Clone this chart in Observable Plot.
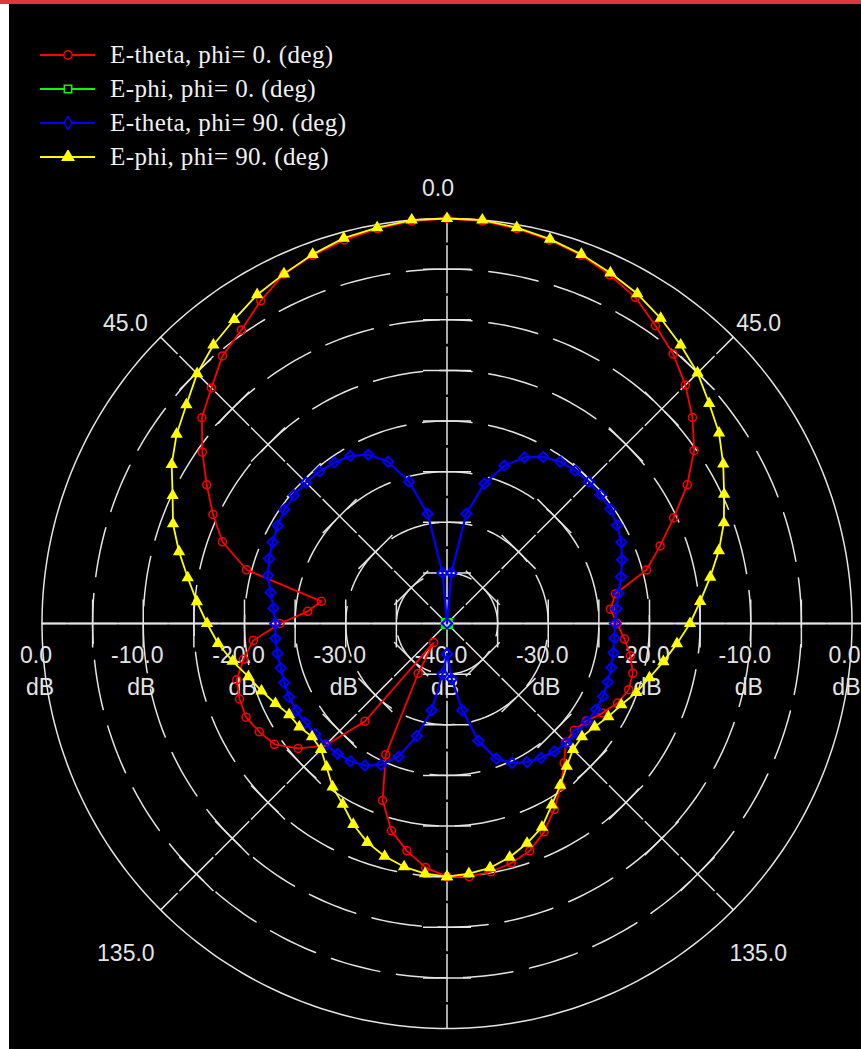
<!DOCTYPE html>
<html><head><meta charset="utf-8">
<script src="https://cdn.jsdelivr.net/npm/d3@7"></script>
<script src="https://cdn.jsdelivr.net/npm/@observablehq/plot@0.6"></script>
<style>
html,body{margin:0;padding:0;background:#fff;width:861px;height:1049px;overflow:hidden}
#bar{position:absolute;left:0;top:0;width:861px;height:4px;background:#d83a3a}
#panel{position:absolute;left:9px;top:4px;width:852px;height:1045px;background:#000;overflow:hidden}
#legend{position:absolute;left:31px;top:34px;font-family:"Liberation Serif","DejaVu Serif",serif;font-size:25px;letter-spacing:0.4px;color:#f0f0f0;line-height:34px}
#legend .row{display:flex;align-items:center;height:34px}
#legend svg{margin-right:15px}
</style></head>
<body>
<div id="bar"></div>
<div id="panel"><div id="legend"></div></div>
<script>
// ---- data (dB versus angle from the top, clockwise positive) ----
const angles = [-180,-175,-170,-165,-160,-155,-150,-145,-140,-135,-130,-125,-120,-115,-110,-105,-100,-95,-90,-85,-80,-75,-70,-65,-60,-55,-50,-45,-40,-35,-30,-25,-20,-15,-10,-5,0,5,10,15,20,25,30,35,40,45,50,55,60,65,70,75,80,85,90,95,100,105,110,115,120,125,130,135,140,145,150,155,160,165,170,175,180];
const redDb = [-15.0,-15.8,-17.2,-18.8,-21.4,-25.7,-34.3,-37.7,-27.4,-22.9,-20.8,-19.2,-18.6,-18.1,-18.2,-18.5,-19.6,-20.8,-23.5,-26.2,-27.4,-19.5,-16.4,-14.5,-12.6,-10.5,-8.4,-7.1,-5.5,-4.6,-3.2,-1.9,-1.3,-0.8,-0.4,-0.1,0,-0.1,-0.4,-0.8,-1.3,-2.0,-2.8,-4.1,-5.25,-6.7,-8.35,-10.2,-12.6,-15.3,-17.6,-19.6,-23.1,-23.8,-23.2,-22.4,-21.6,-21.0,-20.9,-21.4,-22.3,-23.2,-23.6,-23.4,-22.0,-20.4,-18.8,-17.3,-16.1,-15.5,-15.1,-14.9,-15.0];
const greenDb = [-40,-40,-40,-40,-40,-40,-40,-40,-40,-40,-40,-40,-40,-40,-40,-40,-40,-40,-40,-40,-40,-40,-40,-40,-40,-40,-40,-40,-40,-40,-40,-40,-40,-40,-40,-40,-40,-40,-40,-40,-40,-40,-40,-40,-40,-40,-40,-40,-40,-40,-40,-40,-40,-40,-40,-40,-40,-40,-40,-40,-40,-40,-40,-40,-40,-40,-40,-40,-40,-40,-40,-40,-40];
const blueDb = [-37,-35,-31.3,-28.5,-26,-24.6,-23.8,-23.4,-23.2,-23.1,-23.0,-22.9,-22.8,-22.8,-22.9,-23.0,-23.0,-23.0,-23.05,-22.8,-22.3,-21.7,-21.3,-21.0,-20.7,-20.4,-20.3,-20.3,-20.4,-20.6,-20.9,-21.6,-23.0,-25.5,-29,-35,-40,-35,-29,-25.7,-23.4,-21.9,-21.0,-20.5,-20.3,-20.2,-20.2,-20.3,-20.6,-21.0,-21.6,-22.2,-22.8,-23.2,-23.4,-23.4,-23.3,-23.2,-23.1,-23.0,-23.0,-23.1,-23.2,-23.3,-23.5,-23.8,-24.2,-24.8,-25.8,-28,-31.3,-34.5,-37];
const yellowDb = [-15.0,-15.2,-15.6,-16.2,-17.0,-18.1,-19.4,-20.3,-21.5,-22.4,-22.6,-22.2,-22.0,-21.3,-20.5,-19.7,-18.5,-17.3,-16.3,-15.2,-14.0,-12.6,-11.2,-10.1,-8.6,-7.4,-6.4,-5.1,-4.1,-3.35,-2.5,-1.9,-1.2,-0.6,-0.3,0,0,0,-0.3,-0.7,-1.2,-1.8,-2.4,-3.2,-4.1,-5.0,-6.2,-7.2,-8.5,-9.8,-10.9,-12.2,-13.6,-14.9,-16.0,-17.2,-18.3,-19.3,-20.1,-21.0,-21.6,-22.2,-22.6,-22.4,-21.6,-20.5,-19.3,-17.8,-16.9,-16.1,-15.5,-15.2,-15.0];
const seriesNames = ["E-theta, phi= 0. (deg)", "E-phi, phi= 0. (deg)", "E-theta, phi= 90. (deg)", "E-phi, phi= 90. (deg)"];
const seriesColors = ["#ff0000", "#00ff00", "#0000ff", "#ffff00"];
const seriesSymbols = ["circle", "square2", "diamond2", "triangle"];
const ringDb = [-40, -35, -30, -25, -20, -15, -10, -5, 0];
const spokeAngles = [0, 45, 90, 135, 180, 225, 270, 315];
const angleTicks = [0, 45, -45, 135, -135];
const dbTicksLeft = [0, -10, -20, -30, -40];
const dbTicksRight = [-30, -20, -10, 0];

// ---- geometry ----
const W = 852, H = 1045, CX = 437.5, CY = 619, R0 = 405;
const DBMIN = -40, DBMAX = 0;
const k = R0 / (DBMAX - DBMIN);           // px per dB
const rad = d => Math.max(0, d - DBMIN);  // radius in dB units
const toRad = a => a * Math.PI / 180;
const px = (a, r) => r * Math.sin(toRad(a));
const py = (a, r) => r * Math.cos(toRad(a));

const allDb = [redDb, greenDb, blueDb, yellowDb];
const series = allDb.map((dbs, s) => angles.map((a, i) => ({a, db: dbs[i], x: px(a, rad(dbs[i])), y: py(a, rad(dbs[i])), s})));

// rings (dashed inner rings, solid outer ring)
const ringPts = [];
for (const d of ringDb.slice(1, -1)) for (let a = 0; a <= 360; a += 1) ringPts.push({d, x: px(a, rad(d)), y: py(a, rad(d))});
const outerPts = d3.range(0, 361, 1).map(a => ({x: px(a, rad(DBMAX)), y: py(a, rad(DBMAX))}));

// crosses on each ring along the spokes
const arm = 24 / k;
const crosses = [];
for (const d of ringDb) {
  const r = rad(d);
  for (const a of spokeAngles) {
    const r1 = Math.max(0, r - arm), r2 = d === DBMAX ? r : r + arm;
    crosses.push({x1: px(a, r1), y1: py(a, r1), x2: px(a, r2), y2: py(a, r2)});
    if (r > 0 && d !== DBMAX) {
      const tx = Math.cos(toRad(a)), ty = -Math.sin(toRad(a));
      const x0 = px(a, r), y0 = py(a, r);
      crosses.push({x1: x0 - arm * tx, y1: y0 - arm * ty, x2: x0 + arm * tx, y2: y0 + arm * ty});
    }
  }
}

const xDomain = [-CX / k, (W - CX) / k];
const yDomain = [-(H - CY) / k, CY / k];

// label nudges (px, right / down) per angle tick
const angleNudge = {"0": [-9, 2], "45": [3, 9], "-45": [-13, 9], "135": [-11, 8], "-135": [1, 8]};
const angleLabelData = angleTicks.map(a => {
  const r = Math.abs(a) > 90 ? 45 : 43.1;
  const [nx, ny] = angleNudge[a];
  return {a, t: Math.abs(a).toFixed(1), x: px(a, r) + nx / k, y: py(a, r) - ny / k};
});
const dbLabelData = dbTicksLeft.map(d => ({x: -rad(d), d, edge: false})).concat(dbTicksRight.map(d => ({x: rad(d), d, edge: d === DBMAX})));

const gridColor = "#e4e4e4";
const labelFont = "Liberation Sans, Arial, sans-serif";

const marks = [
  Plot.line(ringPts, {x: "x", y: "y", z: "d", stroke: gridColor, strokeWidth: 1.5, strokeDasharray: "50,17", strokeDashoffset: 25}),
  Plot.line(outerPts, {x: "x", y: "y", stroke: gridColor, strokeWidth: 1.5}),
  Plot.link(crosses, {x1: "x1", y1: "y1", x2: "x2", y2: "y2", stroke: gridColor, strokeWidth: 1.5}),
  Plot.ruleY([0], {x1: -rad(DBMAX), x2: xDomain[1], stroke: gridColor, strokeWidth: 2}),
  Plot.text(angleLabelData, {x: "x", y: "y", text: "t", fill: gridColor, fontSize: 23, fontFamily: labelFont}),
  Plot.text(dbLabelData.filter(d => !d.edge), {x: "x", y: () => 0, text: d => d.d.toFixed(1), fill: gridColor, fontSize: 23, fontFamily: labelFont, dx: -6, dy: 32}),
  Plot.text(dbLabelData.filter(d => !d.edge), {x: "x", y: () => 0, text: () => "dB", fill: gridColor, fontSize: 23, fontFamily: labelFont, dx: -2, dy: 64}),
  Plot.text(dbLabelData.filter(d => d.edge), {x: () => xDomain[1], y: () => 0, text: d => d.d.toFixed(1), fill: gridColor, fontSize: 23, fontFamily: labelFont, textAnchor: "end", dx: -1, dy: 32}),
  Plot.text(dbLabelData.filter(d => d.edge), {x: () => xDomain[1], y: () => 0, text: () => "dB", fill: gridColor, fontSize: 23, fontFamily: labelFont, textAnchor: "end", dx: -1, dy: 64})
];
const markerSize = [4, 5.5, 4.6, 3.6];
series.forEach((data, s) => {
  marks.push(Plot.line(data, {x: "x", y: "y", stroke: seriesColors[s], strokeWidth: s === 2 ? 2.2 : 1.8}));
  const filled = seriesSymbols[s] === "triangle";
  marks.push(Plot.dot(data, {x: "x", y: "y", symbol: seriesSymbols[s], r: markerSize[s], stroke: seriesColors[s], strokeWidth: s === 2 ? 2 : 1.5, fill: filled ? seriesColors[s] : "none"}));
});

const chart = Plot.plot({
  width: W, height: H, margin: 0,
  x: {domain: xDomain, range: [0, W], axis: null},
  y: {domain: yDomain, range: [H, 0], axis: null},
  style: {background: "#000", overflow: "hidden"},
  marks
});
document.getElementById("panel").prepend(chart);

// legend
const legend = document.getElementById("legend");
const d3sym = {circle: d3.symbolCircle, square2: d3.symbolSquare, diamond2: d3.symbolDiamond, triangle: d3.symbolTriangle};
seriesNames.forEach((name, s) => {
  const row = document.createElement("div");
  row.className = "row";
  const sym = d3.create("svg").attr("width", 55).attr("height", 14);
  sym.append("line").attr("x1", 0).attr("x2", 55).attr("y1", 7).attr("y2", 7).attr("stroke", seriesColors[s]).attr("stroke-width", 2);
  sym.append("path").attr("transform", "translate(28,7)")
    .attr("d", d3.symbol(d3sym[seriesSymbols[s]], 55)())
    .attr("stroke", seriesColors[s]).attr("stroke-width", 1.5)
    .attr("fill", seriesSymbols[s] === "triangle" ? seriesColors[s] : "#000");
  row.append(sym.node());
  const span = document.createElement("span");
  span.textContent = name;
  row.append(span);
  legend.append(row);
});
</script>
</body></html>
